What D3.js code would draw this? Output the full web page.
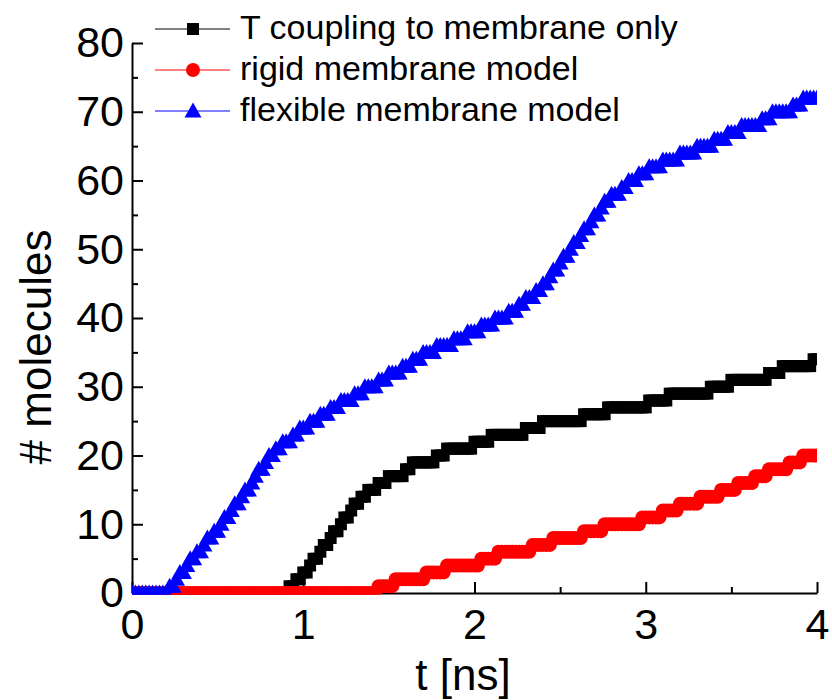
<!DOCTYPE html>
<html>
<head>
<meta charset="utf-8">
<script src="https://cdn.jsdelivr.net/npm/d3@7"></script>
<style>
  html, body { margin: 0; padding: 0; background: #fff; }
  svg { display: block; font-family: "Liberation Sans", Arial, sans-serif; }
</style>
</head>
<body>
<script>
// Sample times (ns), one frame every 0.02 ns from 0 to 4 ns
const timeStep = 0.02;
const times = d3.range(201).map(i => +(i * timeStep).toFixed(2));

// Number of molecules per frame, 10 frames per row (0.2 ns per row)
const tCouplingOnly = [
  0,0,0,0,0,0,0,0,0,0,
  0,0,0,0,0,0,0,0,0,0,
  0,0,0,0,0,0,0,0,0,0,
  0,0,0,0,0,0,0,0,0,0,
  0,0,0,0,0,0,1,1,2,2,
  3,3,4,5,5,6,7,7,8,9,
  9,10,11,11,12,13,13,14,14,15,
  15,15,16,16,16,17,17,17,17,17,
  18,18,19,19,19,19,19,19,19,20,
  20,20,21,21,21,21,21,21,21,21,
  22,22,22,22,22,23,23,23,23,23,
  23,23,23,23,23,24,24,24,24,24,
  25,25,25,25,25,25,25,25,25,25,
  25,25,26,26,26,26,26,26,26,27,
  27,27,27,27,27,27,27,27,27,27,
  27,28,28,28,28,28,28,29,29,29,
  29,29,29,29,29,29,29,29,29,30,
  30,30,30,30,30,31,31,31,31,31,
  31,31,31,31,31,31,32,32,32,32,
  33,33,33,33,33,33,33,33,33,34,
  34
];

const rigidMembrane = [
  0,0,0,0,0,0,0,0,0,0,
  0,0,0,0,0,0,0,0,0,0,
  0,0,0,0,0,0,0,0,0,0,
  0,0,0,0,0,0,0,0,0,0,
  0,0,0,0,0,0,0,0,0,0,
  0,0,0,0,0,0,0,0,0,0,
  0,0,0,0,0,0,0,0,0,0,
  0,0,1,1,1,1,1,2,2,2,
  2,2,2,2,2,2,3,3,3,3,
  3,3,4,4,4,4,4,4,4,4,
  4,4,5,5,5,5,5,6,6,6,
  6,6,6,6,6,6,6,7,7,7,
  7,7,7,8,8,8,8,8,8,8,
  8,8,9,9,9,9,9,9,10,10,
  10,10,10,10,10,10,10,10,10,11,
  11,11,11,11,11,12,12,12,12,12,
  13,13,13,13,13,13,14,14,14,14,
  14,14,15,15,15,15,15,16,16,16,
  16,16,17,17,17,17,18,18,18,18,
  18,18,19,19,19,19,20,20,20,20,
  20
];

const flexibleMembrane = [
  0,0,0,0,0,0,0,0,0,0,
  0,1,1,2,3,3,4,5,5,6,
  6,7,8,8,9,9,10,11,11,12,
  13,13,14,15,15,16,17,18,18,19,
  20,20,21,21,22,22,22,23,23,24,
  24,24,25,25,25,26,26,26,27,27,
  27,28,28,28,28,29,29,29,30,30,
  30,30,31,31,31,32,32,32,32,33,
  33,33,34,34,34,35,35,35,35,36,
  36,36,36,36,37,37,37,37,38,38,
  38,38,39,39,39,39,40,40,40,40,
  41,41,41,42,42,43,43,43,44,44,
  45,45,46,47,47,48,49,49,50,51,
  51,52,53,53,54,55,55,56,57,57,
  58,58,58,59,59,60,60,60,61,61,
  61,62,62,62,62,63,63,63,63,63,
  64,64,64,64,64,65,65,65,65,65,
  66,66,66,66,67,67,67,67,68,68,
  68,68,68,68,69,69,69,70,70,70,
  70,70,70,71,71,71,72,72,72,72,
  72
];

const seriesNames = ["T coupling to membrane only", "rigid membrane model", "flexible membrane model"];
const seriesColors = ["#000000", "#ff0000", "#0000ff"];
const seriesSymbols = ["square", "circle", "triangle"];
const seriesValues = [tCouplingOnly, rigidMembrane, flexibleMembrane];

const xTicks = [0, 1, 2, 3, 4];
const xMinorTicks = [0.5, 1.5, 2.5, 3.5];
const yTicks = [0, 10, 20, 30, 40, 50, 60, 70, 80];
const yMinorTicks = [5, 15, 25, 35, 45, 55, 65, 75];

const W = 832, H = 700;
const plot = { left: 132, right: 817, top: 43, bottom: 593 };

const svg = d3.select("body").append("svg").attr("width", W).attr("height", H);

const x = d3.scaleLinear().domain([0, 4]).range([plot.left, plot.right]);
const y = d3.scaleLinear().domain([0, 80]).range([plot.bottom, plot.top]);

// symbol paths centred on the data point
function symbolPath(kind) {
  if (kind === "square") return "M-6,-6H6V6H-6Z";
  if (kind === "circle") return d3.arc()({ innerRadius: 0, outerRadius: 7, startAngle: 0, endAngle: 2 * Math.PI });
  return "M0,-8.5L8.5,6.5L-8.5,6.5Z";
}

// axes
const tickFont = 43;
const xAxisG = svg.append("g").attr("transform", `translate(0,${plot.bottom})`);
xAxisG.call(d3.axisBottom(x).tickValues(xTicks).tickSize(-11).tickSizeOuter(0).tickPadding(15).tickFormat(d3.format("d")));
xAxisG.append("g").call(d3.axisBottom(x).tickValues(xMinorTicks).tickSize(-6).tickSizeOuter(0).tickFormat(""))
  .select(".domain").remove();

const yAxisG = svg.append("g").attr("transform", `translate(${plot.left},0)`);
yAxisG.call(d3.axisLeft(y).tickValues(yTicks).tickSize(-11).tickSizeOuter(0).tickPadding(8).tickFormat(d3.format("d")));
yAxisG.append("g").call(d3.axisLeft(y).tickValues(yMinorTicks).tickSize(-6).tickSizeOuter(0).tickFormat(""))
  .select(".domain").remove();

svg.selectAll(".domain").attr("stroke", "#000").attr("stroke-width", 2);
svg.selectAll(".tick line").attr("stroke", "#000").attr("stroke-width", 2);
svg.selectAll(".tick text")
  .attr("font-family", "Liberation Sans, Arial, sans-serif")
  .attr("font-size", tickFont).attr("fill", "#000");

// axis titles
svg.append("text")
  .attr("x", 463).attr("y", 690)
  .attr("text-anchor", "middle")
  .attr("font-size", 44).attr("fill", "#000")
  .text("t [ns]");

svg.append("text")
  .attr("transform", "translate(51,347) rotate(-90)")
  .attr("text-anchor", "middle")
  .attr("font-size", 44).attr("fill", "#000")
  .text("# molecules");

// data layer clipped to the plot frame
svg.append("defs").append("clipPath").attr("id", "plotClip")
  .append("rect").attr("x", plot.left).attr("y", 0)
  .attr("width", plot.right - plot.left).attr("height", plot.bottom + 1.5);

const dataLayer = svg.append("g").attr("clip-path", "url(#plotClip)");

seriesValues.forEach((vals, si) => {
  const pts = times.map((t, i) => [t, vals[i]]);
  const g = dataLayer.append("g");
  g.append("path")
    .attr("d", d3.line().x(d => x(d[0])).y(d => y(d[1]))(pts))
    .attr("fill", "none").attr("stroke", seriesColors[si]).attr("stroke-width", 1);
  g.selectAll("path.mk").data(pts).join("path")
    .attr("class", "mk")
    .attr("transform", d => `translate(${x(d[0])},${y(d[1])})`)
    .attr("d", symbolPath(seriesSymbols[si]))
    .attr("fill", seriesColors[si]);
});

// legend
const legendRows = [29, 70, 111];
const legend = svg.append("g");
seriesNames.forEach((name, si) => {
  const ly = legendRows[si];
  legend.append("line")
    .attr("x1", 155).attr("x2", 230).attr("y1", ly).attr("y2", ly)
    .attr("stroke", seriesColors[si]).attr("stroke-width", 1);
  legend.append("path")
    .attr("transform", `translate(193,${ly})`)
    .attr("d", symbolPath(seriesSymbols[si]))
    .attr("fill", seriesColors[si]);
  legend.append("text")
    .attr("x", 240).attr("y", ly + 10)
    .attr("font-size", 34).attr("fill", "#000")
    .text(name);
});
</script>
</body>
</html>
